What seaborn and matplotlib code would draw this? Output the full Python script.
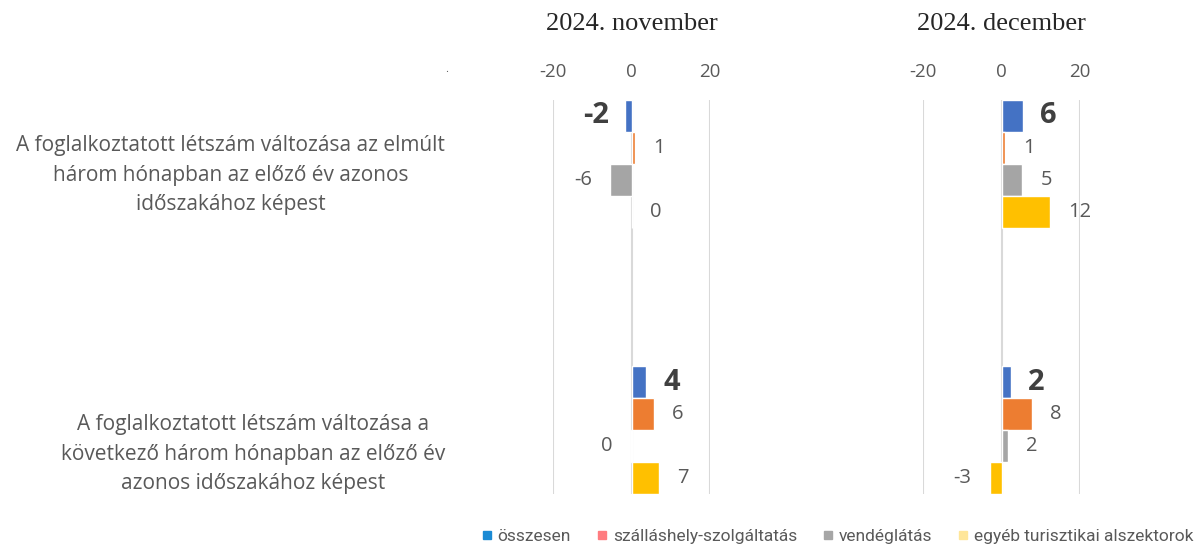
import numpy as np
import pandas as pd
import seaborn as sns
import matplotlib.pyplot as plt
from matplotlib.lines import Line2D
from matplotlib import transforms

# data
periods = ['2024. november', '2024. december']
categories = ['A foglalkoztatott létszám változása az elmúlt\nhárom hónapban az előző év azonos\nidőszakához képest',
              'A foglalkoztatott létszám változása a\nkövetkező három hónapban az előző év\nazonos időszakához képest']
sectors = ['összesen', 'szálláshely-szolgáltatás', 'vendéglátás', 'egyéb turisztikai alszektorok']
nov_past = [-1.6, 1.0, -5.5, 0.2]
nov_next = [3.8, 5.7, -0.2, 6.9]
dec_past = [5.6, 0.9, 5.3, 12.4]
dec_next = [2.4, 7.8, 1.6, -3.0]

bar_colors = ['#4472C4', '#ED7D31', '#A5A5A5', '#FFC000']
legend_colors = ['#1A8AD4', '#FF7C80', '#A6A6A6', '#FFE699']

rows = []
for per, past, nxt in [(periods[0], nov_past, nov_next), (periods[1], dec_past, dec_next)]:
    for s, a, b in zip(sectors, past, nxt):
        rows.append({'period': per, 'cat': categories[0], 'sector': s, 'value': a})
        rows.append({'period': per, 'cat': categories[1], 'sector': s, 'value': b})
df = pd.DataFrame(rows)

sns.set_style('white')
plt.rcParams['font.family'] = ['Open Sans', 'DejaVu Sans']
plt.rcParams['axes.unicode_minus'] = False

fig = plt.figure(figsize=(11.98, 5.47), dpi=100)
axes = [fig.add_axes([553 / 1198, 1 - 494 / 547, 157 / 1198, 394 / 547]),
        fig.add_axes([923 / 1198, 1 - 494 / 547, 157 / 1198, 394 / 547])]

txt = '#595959'
for i, (ax, per) in enumerate(zip(axes, periods)):
    sub = df[df.period == per]
    sns.barplot(data=sub, y='cat', x='value', hue='sector', order=categories,
                hue_order=sectors, palette=bar_colors, orient='h', width=0.48,
                gap=0, legend=False, errorbar=None, saturation=1, ax=ax)
    ax.set_xlim(-20, 20)
    ax.set_ylim(1.24, -0.24)
    ax.set_xticks([-20, 0, 20])
    ax.xaxis.tick_top()
    ax.tick_params(axis='x', length=0, pad=14, labelsize=13.5, labelcolor=txt)
    ax.grid(axis='x', color='#D9D9D9', linewidth=1.5)
    ax.set_axisbelow(True)
    for sp in ax.spines.values():
        sp.set_visible(False)
    ax.set_xlabel('')
    ax.set_ylabel('')
    ax.set_yticklabels([])
    ax.tick_params(axis='y', length=0)
    for j, cont in enumerate(ax.containers):
        labs = [str(int(round(b.get_width()))) for b in cont]
        if j == 0:
            ax.bar_label(cont, labels=labs, padding=12, fontsize=21, fontweight='bold', color='#404040')
        else:
            ax.bar_label(cont, labels=labs, padding=13, fontsize=14.5, color=txt)
    fig.text((ax.get_position().x0 + ax.get_position().x1) / 2, 1 - 24 / 547, per,
             ha='center', va='center', fontsize=19, family=['Liberation Serif', 'DejaVu Serif'])

# category labels to the left of the first panel
ax = axes[0]
trans = transforms.blended_transform_factory(ax.transAxes, ax.transData)
for k, (cat, dy) in enumerate(zip(categories, [0.042, 0.09])):
    ax.text(-108 / 157, k + dy, cat, transform=trans, ha='right', va='center',
            multialignment='center', linespacing=1.52, fontsize=15, color=txt)

fig.text(447 / 1198, 1 - 72 / 547, '.', fontsize=8, color=txt, ha='center')

handles = [Line2D([], [], marker='s', linestyle='', markersize=6, color=c) for c in legend_colors]
fig.legend(handles, sectors, loc='center', bbox_to_anchor=(836 / 1198, 1 - 536 / 547), ncol=4,
           frameon=False, handletextpad=0.1, columnspacing=1.3, handlelength=1,
           prop={'family': ['Roboto', 'DejaVu Sans'], 'size': 12.5},
           labelcolor=txt)

fig.savefig('out.png', dpi=100)
